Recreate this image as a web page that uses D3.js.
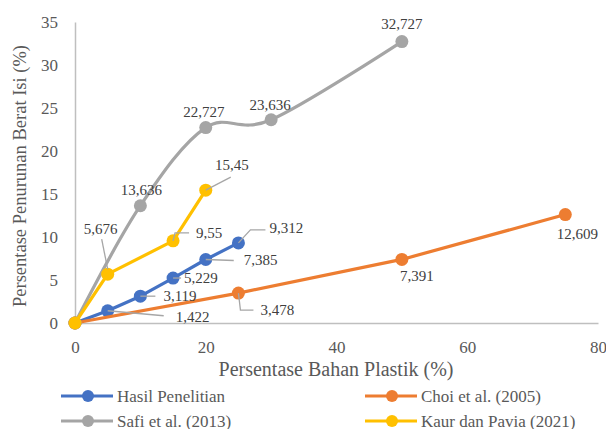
<!DOCTYPE html>
<html><head><meta charset="utf-8">
<script src="https://cdn.jsdelivr.net/npm/d3@7"></script>
<style>body{margin:0;background:#fff}svg{display:block}svg text{font-family:'Liberation Serif','DejaVu Serif',serif !important}</style>
</head><body><svg id="c" width="606" height="429"></svg>
<script>
// ---- data ----
const seriesNames = ["Hasil Penelitian", "Choi et al. (2005)", "Safi et al. (2013)", "Kaur dan Pavia (2021)"];
const hasilX = [0, 5, 10, 15, 20, 25];
const hasilY = [0, 1.422, 3.119, 5.229, 7.385, 9.312];
const choiX = [0, 25, 50, 75];
const choiY = [0, 3.478, 7.391, 12.609];
const safiX = [0, 10, 20, 30, 50];
const safiY = [0, 13.636, 22.727, 23.636, 32.727];
const kaurX = [0, 5, 15, 20];
const kaurY = [0, 5.676, 9.55, 15.45];
const xTicks = [0, 20, 40, 60, 80];
const yTicks = [0, 5, 10, 15, 20, 25, 30, 35];

// ---- styling / label placement (pixel offsets relative to each point) ----
const colors = ["#4472C4", "#ED7D31", "#A5A5A5", "#FFC000"];
const smooth = [false, false, true, false];
// per point: [textDx, textDy, anchor, leaderPoints] ; null = no label
const labelCfg = [
  [null,
   [68, 6, "start", [[0,0],[56,5]]],
   [23, 0, "start", [[0,0],[15,0]]],
   [11, 0, "start", [[0,0],[8,0]]],
   [38, 1, "start", [[0,0],[28,1]]],
   [31, -15, "start", [[0,0],[12,-13],[27,-13]]]],
  [null,
   [22, 17, "start", [[0,0],[2,17],[15,17]]],
   [15, 17, "middle", null],
   [12, 19, "middle", null]],
  [null,
   [1, -16, "middle", null],
   [-2, -16, "middle", null],
   [-1, -15, "middle", null],
   [0, -18, "middle", null]],
  [null,
   [-7, -45, "middle", [[-6,-35],[0,-5]]],
   [23, -8, "start", [[0,0],[2,-8],[16,-8]]],
   [26, -25, "middle", [[0,0],[25,-13]]]]
];

const FONT = "'Liberation Serif','DejaVu Serif',serif";
const svg = d3.select("#c");
const x = d3.scaleLinear().domain([0, 80]).range([75, 598]);
const y = d3.scaleLinear().domain([0, 35]).range([323, 22]);
const textCol = "#595959";

// axes
const yAxis = svg.append("g").attr("transform", `translate(${x(0)},0)`)
  .call(d3.axisLeft(y).tickValues(yTicks).tickSize(0).tickPadding(17));
const xAxis = svg.append("g").attr("transform", `translate(0,${y(0)})`)
  .call(d3.axisBottom(x).tickValues(xTicks).tickSize(0).tickPadding(16));
[yAxis, xAxis].forEach(a => {
  a.attr("font-family", FONT);
  a.select(".domain").attr("stroke", "#BFBFBF").attr("stroke-width", 1.5);
  a.selectAll("text").attr("fill", textCol).style("font-size", "17px");
});
xAxis.selectAll("text").attr("dy", "0.71em").attr("y", 18);

// titles
svg.append("text").attr("transform", "translate(20,176) rotate(-90)")
  .attr("text-anchor", "middle").attr("dominant-baseline", "central")
  .attr("fill", textCol).style("font-size", "18.5px")
  .text("Persentase Penurunan Berat Isi (%)");
svg.append("text").attr("x", 336).attr("y", 369)
  .attr("text-anchor", "middle").attr("dominant-baseline", "central")
  .attr("fill", textCol).style("font-size", "20px")
  .text("Persentase Bahan Plastik (%)");

const allX = [hasilX, choiX, safiX, kaurX];
const allY = [hasilY, choiY, safiY, kaurY];
const series = seriesNames.map((n, i) => ({
  name: n, color: colors[i], smooth: smooth[i],
  pts: allX[i].map((xv, j) => ({ x: xv, y: allY[i][j] }))
}));

// lines + markers
series.forEach(s => {
  const line = d3.line().x(d => x(d.x)).y(d => y(d.y))
    .curve(s.smooth ? d3.curveCardinal.tension(0) : d3.curveLinear);
  svg.append("path").datum(s.pts).attr("d", line)
    .attr("fill", "none").attr("stroke", s.color).attr("stroke-width", 3.2)
    .attr("stroke-linejoin", "round").attr("stroke-linecap", "round");
  svg.append("g").selectAll("circle").data(s.pts).join("circle")
    .attr("cx", d => x(d.x)).attr("cy", d => y(d.y)).attr("r", 6.5)
    .attr("fill", s.color);
});

// data labels
const fmt = v => String(v).replace(".", ",");
series.forEach((s, i) => {
  s.pts.forEach((p, j) => {
    const c = labelCfg[i][j];
    if (!c) return;
    const px = x(p.x), py = y(p.y);
    if (c[3]) {
      svg.append("polyline")
        .attr("points", c[3].map(q => `${px + q[0]},${py + q[1]}`).join(" "))
        .attr("fill", "none").attr("stroke", "#A6A6A6").attr("stroke-width", 1.3);
    }
    svg.append("text").attr("x", px + c[0]).attr("y", py + c[1])
      .attr("text-anchor", c[2]).attr("dominant-baseline", "central")
      .attr("fill", "#404040").style("font-size", "15px")
      .text(fmt(p.y));
  });
});

// legend
const legPos = [[61, 396], [365, 396], [61, 421], [365, 421]];
series.forEach((s, i) => {
  const [lx, ly] = legPos[i];
  const g = svg.append("g");
  g.append("line").attr("x1", lx).attr("x2", lx + 52).attr("y1", ly).attr("y2", ly)
    .attr("stroke", s.color).attr("stroke-width", 3.2);
  g.append("circle").attr("cx", lx + 27).attr("cy", ly).attr("r", 6).attr("fill", s.color);
  g.append("text").attr("x", lx + 56).attr("y", ly).attr("dominant-baseline", "central")
    .attr("fill", textCol).style("font-size", "17px").text(s.name);
});
</script></body></html>
